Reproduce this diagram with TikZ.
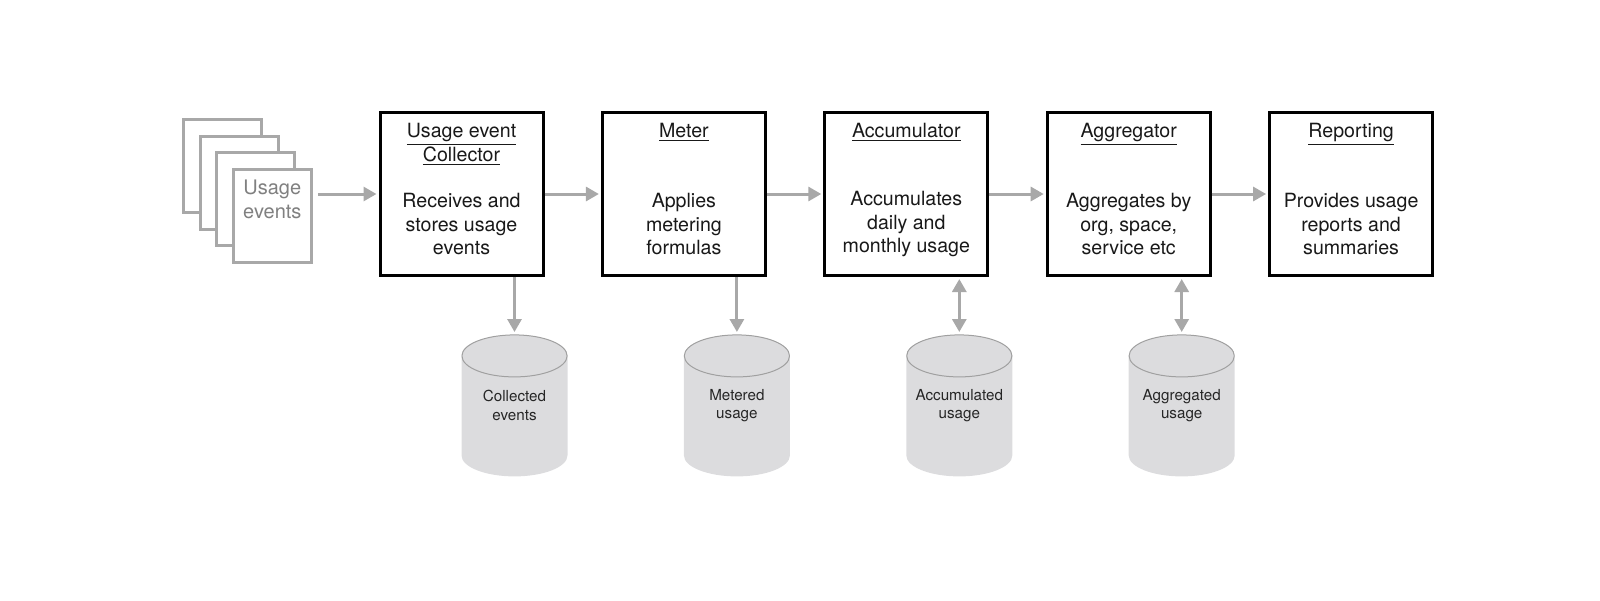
\documentclass[tikz,border=0pt]{standalone}
\usepackage{fontspec}
\setmainfont{TeX Gyre Heros}
\usetikzlibrary{arrows.meta,positioning}
\definecolor{flowgray}{HTML}{A8A8A8}
\definecolor{storegray}{HTML}{DCDCDE}
\definecolor{capgray}{HTML}{A0A0A0}
\definecolor{pagetext}{HTML}{808080}

\begin{document}
\begin{tikzpicture}[
  x=0.5pt, y=-0.5pt,
  stagebox/.style={rectangle, draw=black, line width=1.5pt, fill=white, minimum width=81.5pt, minimum height=81.5pt, inner sep=0pt},
  stagetitle/.style={font=\fontsize{9.8}{11.75}\selectfont, align=center, anchor=north, inner sep=0pt, text=black!90},
  stagetext/.style={font=\fontsize{9.8}{11.75}\selectfont, align=center, inner sep=0pt, text=black!90},
  docpage/.style={rectangle, draw=flowgray, line width=1.5pt, fill=white, minimum width=39pt, minimum height=46.5pt, inner sep=0pt},
  capline/.style={draw=capgray, line width=0.5pt},
  store/.style={rectangle, minimum width=53pt, minimum height=71pt, inner sep=0pt, font=\fontsize{7.6}{9.2}\selectfont, align=center, text=black!85,
    path picture={
      \fill[storegray] ([yshift=-10.75pt]path picture bounding box.north west)
        -- ([yshift=10.5pt]path picture bounding box.south west)
        arc[start angle=180, end angle=360, x radius=26.5pt, y radius=10.5pt]
        -- ([yshift=-10.75pt]path picture bounding box.north east)
        arc[start angle=0, end angle=180, x radius=26.5pt, y radius=10.5pt] -- cycle;
      \draw[capline] ([yshift=-10.75pt]path picture bounding box.north) ellipse [x radius=26.3pt, y radius=10.5pt];
    }},
  arrow/.style={-{Triangle[length=6.5pt, width=7pt]}, line width=1.5pt, flowgray, shorten >=1pt},
  twoway/.style={{Triangle[length=6.5pt, width=7pt]}-{Triangle[length=6.5pt, width=7pt]}, line width=1.5pt, flowgray, shorten >=1pt, shorten <=1pt}
]
\useasboundingbox (0,0) rectangle (1600,600);

% stack of usage event pages
\foreach \i in {0,...,3}
  \node[docpage] (doc\i) at (222.5+16.6*\i, 166+16.6*\i) {};
\node[stagetitle, text=pagetext, font=\fontsize{10}{11.75}\selectfont, below=6pt of doc3.north] (doclabel) {Usage\\events};

% pipeline stages
\node[stagebox] (collector) at (461.5,194) {};
\node[stagebox, right=28.2pt of collector] (meter) {};
\node[stagebox, right=28.2pt of meter] (accumulator) {};
\node[stagebox, right=28.2pt of accumulator] (aggregator) {};
\node[stagebox, right=28.2pt of aggregator] (reporting) {};

\node[stagetitle, below=6pt of collector.north] {\underline{Usage event}\\\underline{Collector}};
\node[stagetitle, below=6pt of meter.north] {\underline{Meter}};
\node[stagetitle, below=6pt of accumulator.north] {\underline{Accumulator}};
\node[stagetitle, below=6pt of aggregator.north] {\underline{Aggregator}};
\node[stagetitle, below=6pt of reporting.north] {\underline{Reporting}};

\node[stagetext] at ([yshift=-15pt]collector.center) {Receives and\\stores usage\\events};
\node[stagetext] at ([yshift=-15pt]meter.center) {Applies\\metering\\formulas};
\node[stagetext] at ([yshift=-15pt]accumulator.center) {Accumulates\\daily and\\monthly usage};
\node[stagetext] at ([yshift=-15pt]aggregator.center) {Aggregates by\\org, space,\\service etc};
\node[stagetext] at ([yshift=-15pt]reporting.center) {Provides usage\\reports and\\summaries};

% data stores
\node[store, below=28.5pt of collector.south, xshift=26.5pt] (collected) {Collected\\events};
\node[store, below=28.5pt of meter.south, xshift=26.5pt] (metered) {Metered\\usage};
\node[store, below=28.5pt of accumulator.south, xshift=26.5pt] (accumulated) {Accumulated\\usage};
\node[store, below=28.5pt of aggregator.south, xshift=26.5pt] (aggregated) {Aggregated\\usage};

% flow
\draw[arrow, shorten <=2.5pt] (doc3.east |- collector.west) -- (collector.west);
\draw[arrow] (collector) -- (meter);
\draw[arrow] (meter) -- (accumulator);
\draw[arrow] (accumulator) -- (aggregator);
\draw[arrow] (aggregator) -- (reporting);
\draw[arrow] (collected.north |- collector.south) -- (collected.north);
\draw[arrow] (metered.north |- meter.south) -- (metered.north);
\draw[twoway] (accumulated.north |- accumulator.south) -- (accumulated.north);
\draw[twoway] (aggregated.north |- aggregator.south) -- (aggregated.north);
\end{tikzpicture}
\end{document}
